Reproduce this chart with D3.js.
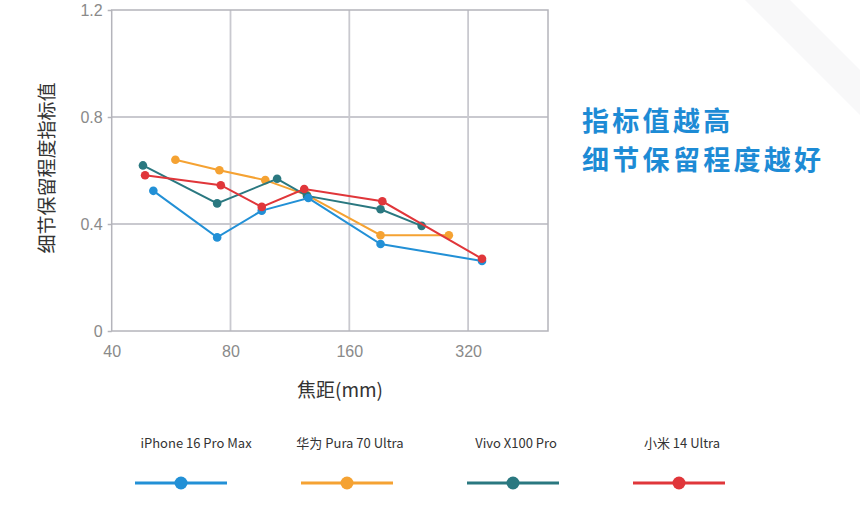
<!DOCTYPE html>
<html>
<head>
<meta charset="utf-8">
<script src="https://cdn.jsdelivr.net/npm/d3@7"></script>
<style>
  body { margin: 0; background: #fff; }
  svg { display: block; font-family: "Noto Sans CJK SC", "Noto Sans", sans-serif; }
</style>
</head>
<body>
<div id="chart"></div>
<script>
// Chart data

var phones = ["iPhone 16 Pro Max", "华为 Pura 70 Ultra", "Vivo X100 Pro", "小米 14 Ultra"];
var colors = ["#2290d6", "#f5a232", "#2a7880", "#e0363a"];

var focalIphone = [51, 74, 96, 126, 192, 347];
var valIphone   = [0.524, 0.350, 0.450, 0.497, 0.325, 0.262];

var focalHuawei = [58, 75, 98, 125, 192, 286];
var valHuawei   = [0.640, 0.601, 0.564, 0.508, 0.358, 0.358];

var focalVivo = [48, 74, 105, 125, 192, 244];
var valVivo   = [0.619, 0.477, 0.569, 0.505, 0.455, 0.393];

var focalXiaomi = [48.6, 75.6, 96, 123, 194, 347];
var valXiaomi   = [0.582, 0.545, 0.464, 0.531, 0.485, 0.270];

var xTicks = [40, 80, 160, 320];
var yTicks = [0, 0.4, 0.8, 1.2];

var yTitle = "细节保留程度指标值";
var xTitle = "焦距(mm)";
var note = ["指标值越高", "细节保留程度越好"];

//////////////////////////////////////////////////////////////////////////////

var width = 860, height = 523;

var series = [
    { name: phones[0], color: colors[0], fx: focalIphone, v: valIphone },
    { name: phones[1], color: colors[1], fx: focalHuawei, v: valHuawei },
    { name: phones[2], color: colors[2], fx: focalVivo,   v: valVivo },
    { name: phones[3], color: colors[3], fx: focalXiaomi, v: valXiaomi }
];
// drawing order (top-most last)
var drawOrder = [1, 2, 0, 3];

var xScale = d3.scaleLog().base(2).domain([40, 510]).range([111.7, 548]);
var yScale = d3.scaleLinear().domain([0, 1.2]).range([331, 10]);

var svg = d3.select("#chart").append("svg")
    .attr("width", width)
    .attr("height", height);

// very faint diagonal band in the background
svg.append("path")
    .attr("d", "M745,0 L790,0 L860,70 L860,115 Z")
    .attr("fill", "#f8f8f9");

// grid
var grid = svg.append("g");
grid.selectAll("line.v")
    .data(xTicks.slice(1))
    .enter().append("line")
    .attr("x1", function(d) { return xScale(d); })
    .attr("x2", function(d) { return xScale(d); })
    .attr("y1", yScale(1.2))
    .attr("y2", yScale(0))
    .attr("stroke", "#c9c9cf")
    .attr("stroke-width", 1.8);
grid.selectAll("line.h")
    .data(yTicks.slice(1, 3))
    .enter().append("line")
    .attr("x1", xScale(40))
    .attr("x2", xScale(510))
    .attr("y1", function(d) { return yScale(d); })
    .attr("y2", function(d) { return yScale(d); })
    .attr("stroke", "#c9c9cf")
    .attr("stroke-width", 1.8);

// frame
svg.append("rect")
    .attr("x", xScale(40))
    .attr("y", yScale(1.2))
    .attr("width", xScale(510) - xScale(40))
    .attr("height", yScale(0) - yScale(1.2))
    .attr("fill", "none")
    .attr("stroke", "#b4b4bb")
    .attr("stroke-width", 1.5);

// y axis
var yAxis = svg.append("g")
    .attr("transform", "translate(" + xScale(40) + ",0)")
    .call(d3.axisLeft(yScale).tickValues(yTicks).tickSize(4).tickPadding(5)
        .tickFormat(function(d) { return d === 0 ? "0" : d3.format(".1f")(d); }));
yAxis.select(".domain").remove();
yAxis.selectAll("line").attr("stroke", "#b4b4bb").attr("stroke-width", 1.5);
yAxis.selectAll("text")
    .attr("fill", "#8a8a8a")
    .style("font-size", "16px")
    .style("font-weight", 300);

// x axis
var xAxis = svg.append("g")
    .attr("transform", "translate(0," + yScale(0) + ")")
    .call(d3.axisBottom(xScale).tickValues(xTicks).tickSize(0).tickPadding(15)
        .tickFormat(d3.format("d")));
xAxis.select(".domain").remove();
xAxis.selectAll("text")
    .attr("fill", "#8a8a8a")
    .style("font-size", "16px")
    .style("font-weight", 300);

// axis titles
svg.append("text")
    .attr("transform", "translate(54,168) rotate(-90)")
    .attr("text-anchor", "middle")
    .attr("fill", "#333")
    .style("font-size", "19px")
    .text(yTitle);

svg.append("text")
    .attr("x", 340)
    .attr("y", 397)
    .attr("text-anchor", "middle")
    .attr("fill", "#333")
    .style("font-size", "19px")
    .text(xTitle);

// lines + markers
var line = d3.line()
    .x(function(d) { return xScale(d[0]); })
    .y(function(d) { return yScale(d[1]); });

drawOrder.forEach(function(i) {
    var s = series[i];
    var pts = d3.zip(s.fx, s.v);
    var g = svg.append("g");
    g.append("path")
        .datum(pts)
        .attr("d", line)
        .attr("fill", "none")
        .attr("stroke", s.color)
        .attr("stroke-width", 2);
    g.selectAll("circle")
        .data(pts)
        .enter().append("circle")
        .attr("cx", function(d) { return xScale(d[0]); })
        .attr("cy", function(d) { return yScale(d[1]); })
        .attr("r", 4.3)
        .attr("fill", s.color);
});

// note on the right
svg.selectAll("text.note")
    .data(note)
    .enter().append("text")
    .attr("x", 582)
    .attr("y", function(d, i) { return 131 + i * 39; })
    .attr("fill", "#1d8bd5")
    .style("font-size", "27px")
    .style("letter-spacing", "3.3px")
    .style("font-weight", 700)
    .text(function(d) { return d; });

// legend
var legendX = d3.scalePoint().domain(phones).range([181, 679]);
var leg = svg.selectAll("g.legend")
    .data(series)
    .enter().append("g")
    .attr("transform", function(d) { return "translate(" + legendX(d.name) + ",0)"; });
leg.append("text")
    .attr("x", function(d, i) { return i === 0 ? 15 : 3; })
    .attr("y", 448)
    .attr("text-anchor", "middle")
    .attr("fill", "#333")
    .style("font-size", "13px")
    .text(function(d) { return d.name; });
leg.append("line")
    .attr("x1", -46).attr("x2", 46)
    .attr("y1", 483).attr("y2", 483)
    .attr("stroke", function(d) { return d.color; })
    .attr("stroke-width", 3);
leg.append("circle")
    .attr("cx", 0).attr("cy", 483)
    .attr("r", 6.5)
    .attr("fill", function(d) { return d.color; });
</script>
</body>
</html>
